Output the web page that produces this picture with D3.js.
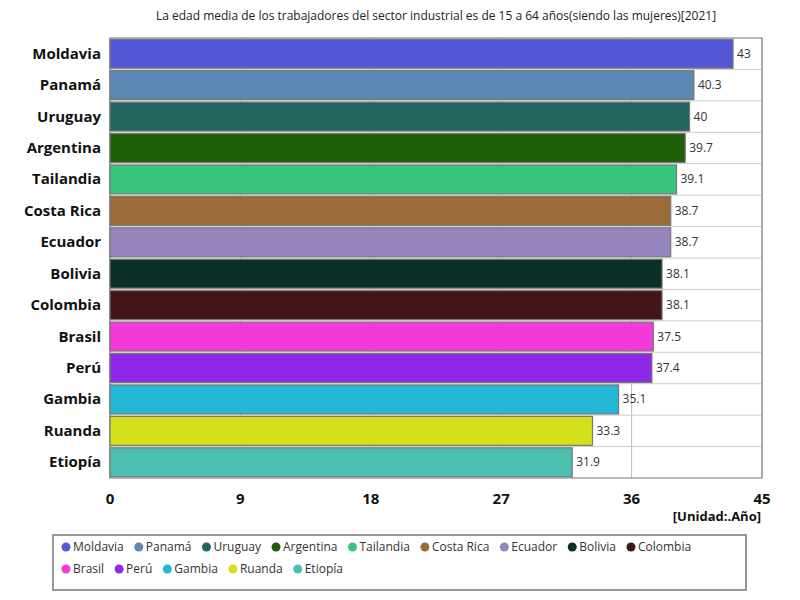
<!DOCTYPE html>
<html><head><meta charset="utf-8">
<script src="https://cdn.jsdelivr.net/npm/d3@7"></script>
<style>body{margin:0;background:#fff}text{font-family:"Open Sans","Noto Sans",sans-serif}</style>
</head><body><svg width="800" height="600"></svg>
<script>
const countries = ["Moldavia","Panamá","Uruguay","Argentina","Tailandia","Costa Rica","Ecuador","Bolivia","Colombia","Brasil","Perú","Gambia","Ruanda","Etiopía"];
const values = [43,40.3,40,39.7,39.1,38.7,38.7,38.1,38.1,37.5,37.4,35.1,33.3,31.9];
const colors = ["#5558d6","#5b88b3","#22665f","#1f5f0a","#36c47e","#9b6b3c","#9584bd","#0b3027","#43141a","#f23ad8","#8f28e8","#22b8d5","#d4e019","#4dbfae"];
const ticks = [0,9,18,27,36,45];

const svg = d3.select("svg");
const m = {l:110, r:762, t:38, b:478};
const x = d3.scaleLinear().domain([0,45]).range([m.l,m.r]);
const y = d3.scaleBand().domain(countries).range([m.t,m.b]).paddingInner(0.08).paddingOuter(0.04);

svg.append("text").attr("x",436).attr("y",20).attr("text-anchor","middle")
  .attr("font-size",12).attr("fill","#222")
  .text("La edad media de los trabajadores del sector industrial es de 15 a 64 años(siendo las mujeres)[2021]");

// grid
svg.selectAll(".vg").data(ticks).enter().append("line")
  .attr("x1",d=>x(d)).attr("x2",d=>x(d)).attr("y1",m.t).attr("y2",m.b)
  .attr("stroke","#bbb");
const step = (m.b-m.t)/countries.length;
svg.selectAll(".hg").data(d3.range(1,countries.length)).enter().append("line")
  .attr("x1",m.l).attr("x2",m.r).attr("y1",d=>m.t+d*step).attr("y2",d=>m.t+d*step)
  .attr("stroke","#ccc");
svg.append("rect").attr("x",m.l).attr("y",m.t).attr("width",m.r-m.l).attr("height",m.b-m.t)
  .attr("fill","none").attr("stroke","#777");

svg.selectAll(".bar").data(countries).enter().append("rect")
  .attr("x",m.l).attr("y",d=>y(d)).attr("height",y.bandwidth())
  .attr("width",(d,i)=>x(values[i])-m.l)
  .attr("fill",(d,i)=>colors[i]).attr("stroke","#777").attr("stroke-width",1.2);

svg.selectAll(".val").data(countries).enter().append("text")
  .attr("x",(d,i)=>x(values[i])+4).attr("y",d=>y(d)+y.bandwidth()/2+4)
  .attr("font-size",12).attr("fill","#333").text((d,i)=>values[i]);

svg.selectAll(".lab").data(countries).enter().append("text")
  .attr("x",101).attr("y",d=>y(d)+y.bandwidth()/2+5).attr("text-anchor","end")
  .attr("font-size",15).attr("font-weight","bold").attr("fill","#111").text(d=>d);

svg.selectAll(".tk").data(ticks).enter().append("text")
  .attr("x",d=>x(d)).attr("y",504).attr("text-anchor","middle")
  .attr("font-size",15).attr("font-weight","bold").attr("fill","#111").text(d=>d);
svg.append("text").attr("x",761).attr("y",521).attr("text-anchor","end")
  .attr("font-size",13).attr("font-weight","bold").attr("fill","#111").text("[Unidad:.Año]");

// legend
svg.append("rect").attr("x",53).attr("y",535).attr("width",693).attr("height",55)
  .attr("fill","#fff").attr("stroke","#777").attr("stroke-width",1.5);
let lx = 62, ly = 551;
countries.forEach((c,i)=>{
  const w = c.length*6.6 + 22;
  if (lx + w > 740) { lx = 62; ly += 22; }
  svg.append("circle").attr("cx",lx+4).attr("cy",ly-4).attr("r",4.5).attr("fill",colors[i]);
  const t = svg.append("text").attr("x",lx+11).attr("y",ly).attr("font-size",12).attr("fill","#333").text(c);
  lx += t.node().getComputedTextLength() + 22;
});
</script></body></html>
